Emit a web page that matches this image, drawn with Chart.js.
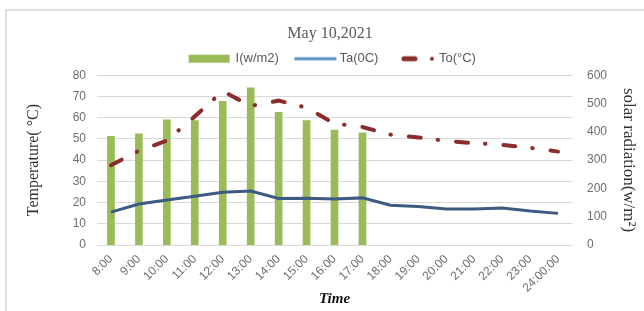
<!DOCTYPE html>
<html>
<head>
<meta charset="utf-8">
<script src="https://cdn.jsdelivr.net/npm/chart.js@4.4.1/dist/chart.umd.min.js"></script>
<style>
  html, body { margin: 0; padding: 0; background: #ffffff; overflow: hidden; }
  #frame { position: absolute; left: 5px; top: 9px; width: 660px; height: 330px; border: 2px solid #dedede; box-sizing: border-box; }
  #wrap { position: absolute; left: 0; top: 0; width: 644px; height: 311px; }
</style>
</head>
<body>
<div id="frame"></div>
<div id="wrap"><canvas id="c" width="644" height="311"></canvas></div>
<script>
// ---- data ----
const categories = ['8:00','9:00','10:00','11:00','12:00','13:00','14:00','15:00','16:00','17:00','18:00','19:00','20:00','21:00','22:00','23:00','24:00:00'];
const radiation = [384, 393, 442, 440, 508, 555, 469, 440, 406, 396, null, null, null, null, null, null, null];
const ambientTemp = [15.5, 19.3, 21.2, 23.0, 24.9, 25.4, 21.9, 22.0, 21.7, 22.2, 18.7, 18.1, 17.0, 17.0, 17.4, 16.0, 14.9];
const outletTemp = [37.6, 44.4, 49.2, 60.6, 72.5, 65.5, 68.0, 64.7, 57.2, 55.6, 52.0, 50.7, 49.0, 48.0, 47.2, 45.8, 44.0];
const seriesNames = ['I(w/m2)', 'Ta(0C)', 'To(°C)'];
const leftTicks = { min: 0, max: 80, step: 10 };
const rightTicks = { min: 0, max: 600, step: 100 };

const GREEN = '#9BBB59', BLUE = '#3D5A80', BLUE_LEG = '#5B8CC6', RED = '#8C2D2D';
const TICK = '#6e6e6e', GRID = '#d9d9d9', AXT = '#333333';

function marker(draw) {
  const c = document.createElement('canvas');
  c.width = 100; c.height = 14;
  const g = c.getContext('2d');
  draw(g);
  return c;
}
const legendMarkers = [
  marker(g => { g.fillStyle = GREEN; g.fillRect(32, 3, 41, 8); }),
  marker(g => { g.strokeStyle = BLUE_LEG; g.lineWidth = 3; g.beginPath(); g.moveTo(34, 7); g.lineTo(76, 7); g.stroke(); }),
  marker(g => {
    g.strokeStyle = RED; g.lineWidth = 5; g.lineCap = 'round';
    g.beginPath(); g.moveTo(44, 7); g.lineTo(55, 7); g.stroke();
    g.fillStyle = RED; g.beginPath(); g.arc(72, 7, 2, 0, Math.PI * 2); g.fill();
  })
];

const chart = new Chart(document.getElementById('c'), {
  type: 'bar',
  data: {
    labels: categories,
    datasets: [
      { type: 'line', label: seriesNames[2], data: outletTemp, yAxisID: 'y', borderColor: RED, backgroundColor: RED,
        borderWidth: 4, borderCapStyle: 'round', borderDash: [12, 17, 0.5, 18], pointRadius: 0, tension: 0, order: 0 },
      { type: 'line', label: seriesNames[1], data: ambientTemp, yAxisID: 'y', borderColor: BLUE, backgroundColor: BLUE,
        borderWidth: 3, pointRadius: 0, tension: 0, order: 1 },
      { type: 'bar', label: seriesNames[0], data: radiation, yAxisID: 'y1', backgroundColor: GREEN,
        barThickness: 7, order: 2 }
    ]
  },
  options: {
    responsive: false,
    animation: false,
    layout: { padding: { left: 16, right: 0, top: 2, bottom: 0 } },
    plugins: {
      tooltip: { enabled: false },
      title: {
        display: true, text: 'May 10,2021', color: '#595959',
        font: { family: 'Liberation Serif', size: 16, weight: 'normal' },
        padding: { top: 22, bottom: 0 }
      },
      legend: {
        display: true, position: 'top',
        labels: {
          usePointStyle: true, pointStyleWidth: 45, padding: 9,
          color: '#595959', font: { family: 'Liberation Sans', size: 13 },
          generateLabels: () => [0, 1, 2].map(i => ({
            text: seriesNames[i], pointStyle: legendMarkers[i], fillStyle: 'rgba(0,0,0,0)',
            strokeStyle: 'rgba(0,0,0,0)', lineWidth: 0, hidden: false, datasetIndex: 2 - i, fontColor: '#595959'
          }))
        }
      }
    },
    scales: {
      x: {
        offset: true,
        grid: { display: false, drawTicks: false },
        border: { display: false },
        ticks: { color: TICK, font: { family: 'Liberation Sans', size: 12 }, maxRotation: 45, minRotation: 45, padding: 7, autoSkip: false },
        title: { display: true, text: 'Time', color: '#111', font: { family: 'Liberation Serif', size: 15, weight: 'bold', style: 'italic' }, padding: { top: 0, bottom: 3 } },
        afterFit: s => { s.height = 66; }
      },
      y: {
        position: 'left', min: leftTicks.min, max: leftTicks.max,
        ticks: { stepSize: leftTicks.step, color: TICK, font: { family: 'Liberation Sans', size: 12 }, padding: 11 },
        grid: { color: GRID, lineWidth: 1, drawTicks: false },
        border: { display: false },
        title: { display: true, text: 'Temperature( °C)', color: AXT, font: { family: 'Liberation Serif', size: 16 }, padding: { top: 8, bottom: 0 } },
        afterFit: s => { s.width = 81; }
      },
      y1: {
        position: 'right', min: rightTicks.min, max: rightTicks.max,
        ticks: { stepSize: rightTicks.step, color: TICK, font: { family: 'Liberation Sans', size: 12 }, padding: 15 },
        grid: { display: false, drawTicks: false },
        border: { display: false },
        title: { display: true, text: 'solar radiation(w/m²)', color: AXT, font: { family: 'Liberation Serif', size: 17 }, padding: { top: 5, bottom: 0 } },
        afterFit: s => { s.width = 72; }
      }
    }
  }
});
</script>
</body>
</html>
